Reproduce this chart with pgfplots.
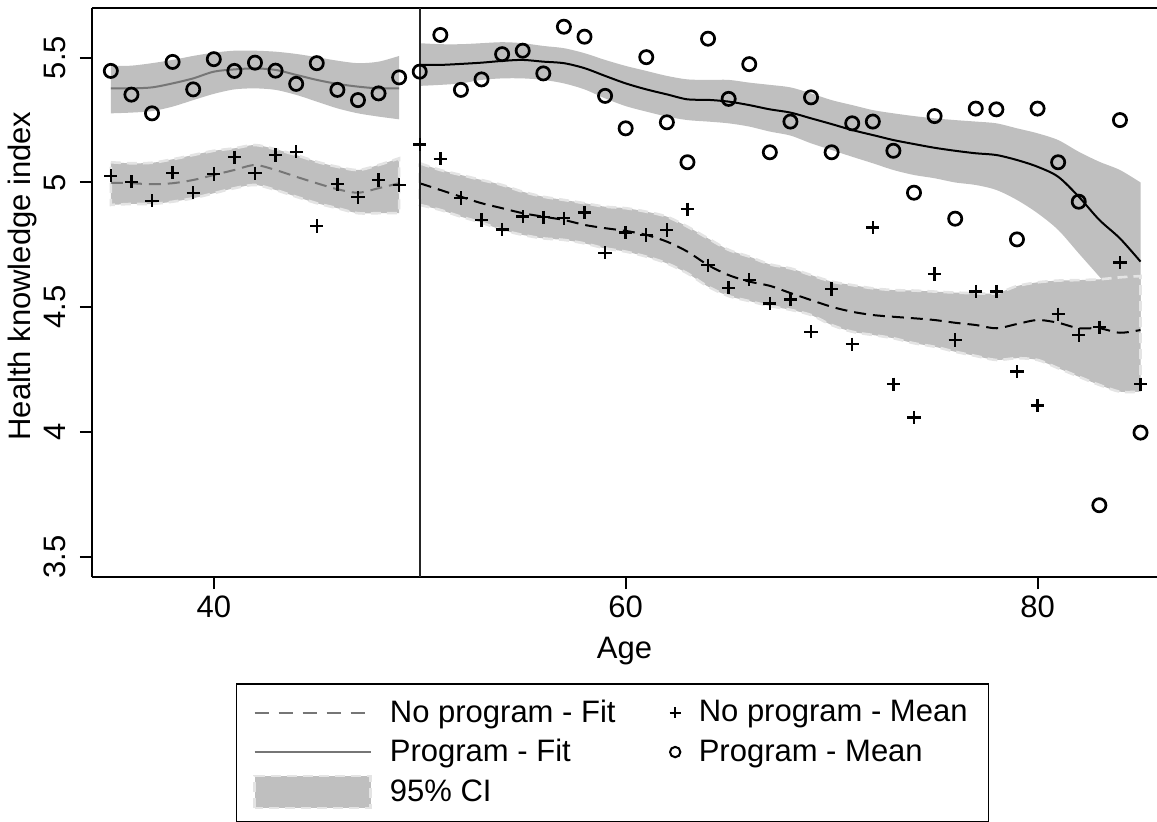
\documentclass[border=0pt]{standalone}
\usepackage{fontspec}
\setmainfont{Liberation Sans}
\usepackage{pgfplots}
\pgfplotsset{compat=1.18}
\usepackage{pgfplotstable}
\usepgfplotslibrary{fillbetween}
\usetikzlibrary{calc}

\definecolor{cigray}{RGB}{191,191,191}
\definecolor{ciedge}{RGB}{228,228,228}
\definecolor{fitgray}{RGB}{118,118,118}

\pgfplotsset{
  longline/.style={legend image code/.code={\draw[##1] (6pt,0pt) -- (64pt,0pt);}},
  cibox/.style={legend image code/.code={\draw[fill=cigray, draw=ciedge, line width=1.3pt, dash pattern=on 5pt off 3pt] (6pt,-8pt) rectangle (64pt,8pt);}},
}

% local fits below the cutoff (age 35-49)
\pgfplotstableread{
age npfit nplo  nphi  pfit  plo   phi
35  4.999 4.910 5.081 5.377 5.277 5.467
36  4.997 4.914 5.077 5.377 5.280 5.468
37  4.993 4.914 5.079 5.381 5.286 5.478
38  4.997 4.923 5.093 5.397 5.304 5.491
39  5.010 4.937 5.110 5.417 5.330 5.507
40  5.030 4.957 5.127 5.444 5.355 5.520
41  5.050 4.977 5.137 5.453 5.373 5.528
42  5.070 4.990 5.150 5.457 5.377 5.528
43  5.050 4.970 5.133 5.451 5.371 5.524
44  5.023 4.943 5.110 5.431 5.351 5.515
45  4.997 4.917 5.083 5.411 5.324 5.502
46  4.973 4.897 5.063 5.395 5.297 5.488
47  4.959 4.877 5.050 5.384 5.277 5.478
48  4.977 4.877 5.070 5.377 5.264 5.484
49  4.997 4.877 5.097 5.377 5.253 5.507
}\leftfit

% local fits above the cutoff (age 50-85)
\pgfplotstableread{
age npfit nplo  nphi  pfit  plo   phi
50  4.997 4.910 5.077 5.471 5.387 5.558
51  4.970 4.890 5.050 5.471 5.391 5.554
52  4.943 4.863 5.030 5.475 5.397 5.554
53  4.917 4.839 5.010 5.480 5.411 5.558
54  4.897 4.810 4.990 5.487 5.417 5.562
55  4.877 4.790 4.963 5.491 5.417 5.558
56  4.863 4.776 4.943 5.484 5.411 5.547
57  4.850 4.770 4.930 5.478 5.397 5.538
58  4.830 4.756 4.917 5.458 5.373 5.518
59  4.817 4.736 4.903 5.427 5.337 5.491
60  4.806 4.723 4.897 5.397 5.306 5.467
61  4.790 4.703 4.883 5.373 5.284 5.447
62  4.763 4.676 4.863 5.353 5.264 5.427
63  4.723 4.636 4.823 5.333 5.250 5.413
64  4.669 4.583 4.776 5.331 5.244 5.411
65  4.629 4.545 4.730 5.324 5.237 5.411
66  4.603 4.525 4.703 5.310 5.224 5.400
67  4.586 4.505 4.672 5.293 5.204 5.391
68  4.557 4.490 4.656 5.280 5.188 5.381
69  4.529 4.469 4.629 5.257 5.157 5.357
70  4.502 4.429 4.603 5.234 5.130 5.330
71  4.482 4.402 4.589 5.210 5.103 5.310
72  4.469 4.389 4.576 5.190 5.077 5.290
73  4.462 4.376 4.569 5.170 5.050 5.277
74  4.456 4.356 4.567 5.154 5.030 5.266
75  4.449 4.342 4.563 5.139 5.017 5.257
76  4.438 4.322 4.559 5.127 5.000 5.250
77  4.429 4.305 4.556 5.117 4.990 5.244
78  4.416 4.289 4.556 5.110 4.970 5.237
79  4.433 4.296 4.585 5.090 4.930 5.217
80  4.449 4.289 4.600 5.063 4.877 5.197
81  4.438 4.256 4.607 5.023 4.810 5.170
82  4.416 4.222 4.609 4.943 4.716 5.123
83  4.416 4.189 4.612 4.850 4.623 5.083
84  4.398 4.162 4.620 4.776 4.530 5.050
85  4.409 4.162 4.625 4.683 4.440 5.000
}\rightfit

% mean index by age
\pgfplotstableread{
age np    p
35  5.027 5.447
36  5.003 5.352
37  4.927 5.277
38  5.039 5.483
39  4.959 5.373
40  5.034 5.494
41  5.101 5.447
42  5.037 5.480
43  5.110 5.448
44  5.123 5.395
45  4.826 5.478
46  4.993 5.371
47  4.941 5.330
48  5.010 5.357
49  4.990 5.421
50  5.152 5.444
51  5.095 5.591
52  4.938 5.371
53  4.850 5.413
54  4.812 5.514
55  4.863 5.528
56  4.861 5.437
57  4.857 5.624
58  4.879 5.584
59  4.718 5.347
60  4.800 5.217
61  4.790 5.502
62  4.810 5.241
63  4.893 5.081
64  4.669 5.576
65  4.578 5.335
66  4.610 5.474
67  4.515 5.121
68  4.532 5.244
69  4.402 5.341
70  4.573 5.121
71  4.352 5.237
72  4.819 5.244
73  4.192 5.127
74  4.059 4.959
75  4.633 5.266
76  4.369 4.855
77  4.563 5.296
78  4.563 5.293
79  4.242 4.772
80  4.107 5.296
81  4.472 5.081
82  4.389 4.923
83  4.420 3.707
84  4.679 5.250
85  4.192 3.998
}\means

\begin{document}
\begin{tikzpicture}
\begin{axis}[
  scale only axis,
  width=532.5pt, height=284.5pt,
  xmin=34.086, xmax=85.8,
  ymin=3.4195, ymax=5.699,
  axis x line=box, axis y line=left,
  axis line style={-, line width=1pt, black},
  xtick pos=bottom, ytick pos=left,
  xtick={40,60,80},
  ytick={3.5,4,4.5,5,5.5},
  tick align=outside,
  major tick length=6pt,
  tick style={black, line width=1pt},
  font=\fontsize{15.5}{18}\selectfont,
  /pgf/number format/assume math mode=true,
  yticklabel style={rotate=90, anchor=south, yshift=3.5pt},
  xlabel={Age},
  ylabel={Health knowledge index},
  xlabel style={at={(axis description cs:0.5,0)}, anchor=center, yshift=-37pt},
  ylabel style={at={(axis description cs:0,0.529)}, anchor=center, yshift=35pt},
  legend columns=2,
  legend cell align=left,
  legend style={
    at={(axis description cs:0.4887,-0.1864)}, anchor=north,
    draw=black, line width=0.8pt,
    inner xsep=8.5pt, inner ysep=6pt,
    row sep=3pt,
    font=\fontsize{15.5}{18}\selectfont,
    /tikz/every odd column/.append style={column sep=7pt},
    /tikz/every even column/.append style={column sep=25pt},
  },
]
\coordinate (bl) at (rel axis cs:0,0);
\coordinate (tr) at (rel axis cs:1,1);

% legend keys
\addlegendimage{fitgray, line width=1pt, dash pattern=on 7pt off 5pt, longline}
\addlegendentry{No program - Fit}
\addlegendimage{only marks, mark=+, mark size=2.8pt, black, mark options={line width=1pt}}
\addlegendentry{No program - Mean}
\addlegendimage{fitgray, line width=1pt, longline}
\addlegendentry{Program - Fit}
\addlegendimage{only marks, mark=o, mark size=2.6pt, black, mark options={line width=1pt}}
\addlegendentry{Program - Mean}
\addlegendimage{cibox}
\addlegendentry{95\% CI}

% confidence bands
\addplot[name path=pLoL, draw=none, smooth, forget plot] table[x=age, y=plo]{\leftfit};
\addplot[name path=pHiL, draw=none, smooth, forget plot] table[x=age, y=phi]{\leftfit};
\addplot[fill=cigray, draw=none, forget plot] fill between[of=pHiL and pLoL];
\addplot[name path=pLoR, draw=none, smooth, forget plot] table[x=age, y=plo]{\rightfit};
\addplot[name path=pHiR, draw=none, smooth, forget plot] table[x=age, y=phi]{\rightfit};
\addplot[fill=cigray, draw=none, forget plot] fill between[of=pHiR and pLoR];

\addplot[name path=nLoL, draw=none, smooth, forget plot] table[x=age, y=nplo]{\leftfit};
\addplot[name path=nHiL, draw=none, smooth, forget plot] table[x=age, y=nphi]{\leftfit};
\addplot[fill=cigray, draw=ciedge, line width=1.3pt, dash pattern=on 5pt off 3pt, forget plot] fill between[of=nHiL and nLoL];
\addplot[name path=nLoR, draw=none, smooth, forget plot] table[x=age, y=nplo]{\rightfit};
\addplot[name path=nHiR, draw=none, smooth, forget plot] table[x=age, y=nphi]{\rightfit};
\addplot[fill=cigray, draw=ciedge, line width=1.3pt, dash pattern=on 5pt off 3pt, forget plot] fill between[of=nHiR and nLoR];

% fitted lines
\addplot[fitgray, line width=1pt, smooth, forget plot] table[x=age, y=pfit]{\leftfit};
\addplot[fitgray, line width=1pt, smooth, dash pattern=on 6pt off 3.5pt, forget plot] table[x=age, y=npfit]{\leftfit};
\addplot[black, line width=1pt, smooth, forget plot] table[x=age, y=pfit]{\rightfit};
\addplot[black, line width=1pt, smooth, dash pattern=on 6pt off 3.5pt, forget plot] table[x=age, y=npfit]{\rightfit};

% cutoff at age 50
\addplot[black!85, line width=1pt, forget plot] coordinates {(50,3.4195) (50,5.699)};

% means
\addplot[only marks, mark=+, mark size=3.3pt, black, mark options={line width=1.2pt}, forget plot] table[x=age, y=np]{\means};
\addplot[only marks, mark=o, mark size=3.3pt, black, mark options={line width=1.35pt}, forget plot] table[x=age, y=p]{\means};
\end{axis}
\pgfresetboundingbox
\path ($(bl)+(-46pt,-122pt)$) rectangle ($(tr)+(0pt,4pt)$);
\end{tikzpicture}
\end{document}
